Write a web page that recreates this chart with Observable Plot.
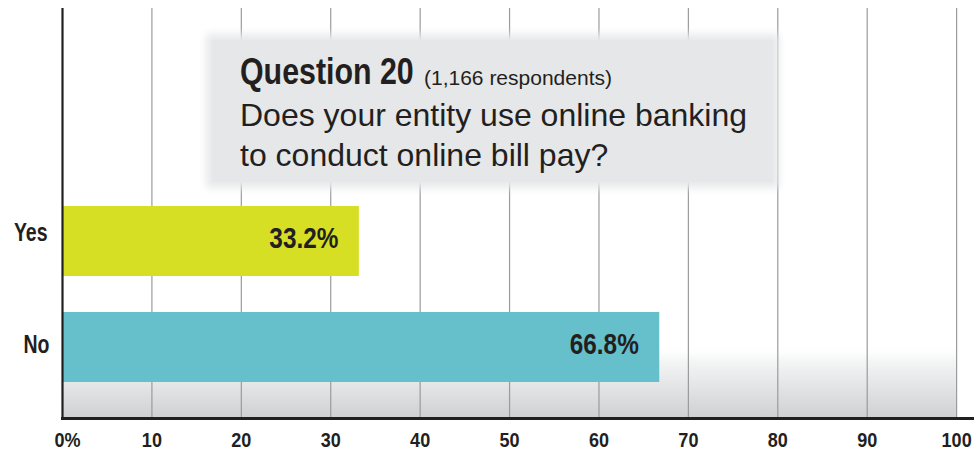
<!DOCTYPE html>
<html>
<head>
<meta charset="utf-8">
<script src="https://cdn.jsdelivr.net/npm/d3@7"></script>
<script src="https://cdn.jsdelivr.net/npm/@observablehq/plot@0.6"></script>
<style>
  html, body { margin: 0; padding: 0; background: #fff; }
  #wrap { position: relative; width: 974px; height: 452px; overflow: hidden; }
  #box {
    position: absolute; left: 212px; top: 40px; width: 561px; height: 142px;
    background: #e6e7e8;
    box-shadow: 0 0 8px 6px #e8e9ea;
  }
  .txt { position: absolute; white-space: nowrap; color: #231f20; font-family: "Liberation Sans", Arial, sans-serif; }
  #qb { left: 240px; top: 52px; font-size: 37px; line-height: 40px; font-weight: bold; transform: scaleX(0.82); transform-origin: 0 0; }
  #qn { left: 424px; top: 66px; font-size: 21px; line-height: 24px; }
  .ql { left: 240px; font-size: 32px; line-height: 40px; }
</style>
</head>
<body>
<div id="wrap"></div>
<script>
const categories = ["Yes", "No"];
const values = [33.2, 66.8];
const colors = ["#d6df23", "#65c0cb"];
const xTicks = [0, 10, 20, 30, 40, 50, 60, 70, 80, 90, 100];
const gridTicks = [10, 20, 30, 40, 50, 60, 70, 80, 90, 100];
const titleBold = "Question 20";
const titleNote = "(1,166 respondents)";
const questionLines = ["Does your entity use online banking", "to conduct online bill pay?"];

const data = categories.map((c, i) => ({cat: c, value: values[i], color: colors[i]}));
const FONT = '"Liberation Sans", Arial, sans-serif';

const chart = Plot.plot({
  width: 974,
  height: 452,
  marginLeft: 62,
  marginRight: 0,
  marginTop: 8,
  marginBottom: 34,
  style: {fontFamily: FONT, color: "#231f20", background: "transparent"},
  x: {domain: [0, 102], label: null},
  y: {domain: categories, range: [205, 383], paddingInner: 0.336, paddingOuter: 0, label: null},
  marks: [
    Plot.rect([0], {x1: 0, x2: 100, fill: "url(#bgGrad)"}),
    Plot.ruleX(gridTicks, {stroke: "#9a9b9d", strokeWidth: 1.2}),
    Plot.barX(data, {x: "value", y: "cat", fill: "color"}),
    Plot.text(data, {
      x: "value", y: "cat", text: d => d.value.toFixed(1) + "%",
      textAnchor: "end", dx: -21, dy: -2.5, fontSize: 29, fontWeight: "bold", fill: "#231f20"
    }),
    Plot.axisX(xTicks.filter(d => d === 0), {
      tickSize: 0, tickPadding: 14, fontSize: 21, fontWeight: "bold", dx: 5,
      tickFormat: d => d + "%", label: null
    }),
    Plot.axisX(xTicks.filter(d => d !== 0), {
      tickSize: 0, tickPadding: 14, fontSize: 21, fontWeight: "bold",
      tickFormat: d => String(d), label: null
    }),
    Plot.axisY([categories[0]], {tickSize: 0, tickPadding: 15, fontSize: 25, fontWeight: "bold", dy: -8.5, label: null}),
    Plot.axisY([categories[1]], {tickSize: 0, tickPadding: 13, fontSize: 25, fontWeight: "bold", dy: -2.5, label: null}),
    Plot.ruleX([0], {stroke: "#231f20", strokeWidth: 2.2}),
    Plot.frame({anchor: "bottom", stroke: "#231f20", strokeWidth: 3})
  ]
});

// gradient definition for the lower part of the plot background
const ns = "http://www.w3.org/2000/svg";
const defs = document.createElementNS(ns, "defs");
defs.innerHTML = `<linearGradient id="bgGrad" x1="0" y1="0" x2="0" y2="1">
  <stop offset="0" stop-color="#ffffff" stop-opacity="0"/>
  <stop offset="0.82" stop-color="#ffffff" stop-opacity="0"/>
  <stop offset="0.86" stop-color="#f4f5f5" stop-opacity="1"/>
  <stop offset="1" stop-color="#cfd0d2" stop-opacity="1"/>
</linearGradient>`;
chart.insertBefore(defs, chart.firstChild);

const wrap = document.getElementById("wrap");
wrap.appendChild(chart);

// condense the bold labels horizontally (Helvetica Condensed look), scaling about each text's anchor
function condense(sel, k) {
  chart.querySelectorAll(sel).forEach(t => {
    const bb = t.getBBox();
    const anchor = getComputedStyle(t).textAnchor;
    const ax = anchor === "end" ? bb.x + bb.width : anchor === "middle" ? bb.x + bb.width / 2 : bb.x;
    const tr = t.getAttribute("transform") || "";
    t.setAttribute("transform", `${tr} translate(${ax},0) scale(${k},1) translate(${-ax},0)`);
  });
}
condense('g[aria-label="x-axis tick label"] text', 0.86);
condense('g[aria-label="y-axis tick label"] text', 0.78);
condense('g[aria-label="text"] text', 0.84);

const box = document.createElement("div");
box.id = "box";
wrap.appendChild(box);

function addText(id, cls, text, top) {
  const d = document.createElement("div");
  if (id) d.id = id;
  d.className = "txt" + (cls ? " " + cls : "");
  d.textContent = text;
  if (top != null) d.style.top = top + "px";
  wrap.appendChild(d);
}
addText("qb", null, titleBold);
addText("qn", null, titleNote);
questionLines.forEach((l, i) => addText(null, "ql", l, 95 + i * 40));
</script>
</body>
</html>
